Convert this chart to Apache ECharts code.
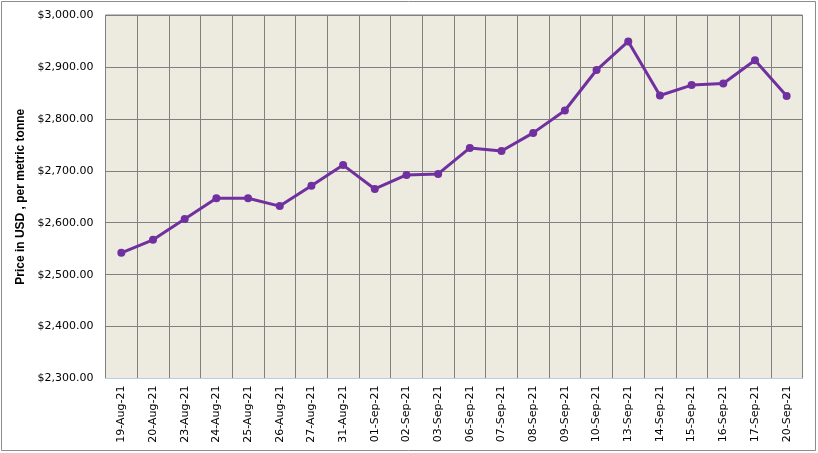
<!DOCTYPE html>
<html>
<head>
<meta charset="utf-8">
<script src="https://cdn.jsdelivr.net/npm/echarts@6/dist/echarts.min.js"></script>
<style>
  html, body { margin: 0; padding: 0; background: #fff; }
  #chart { width: 818px; height: 453px; }
</style>
</head>
<body>
<div id="chart"></div>
<script>
  // dates on the x axis
  var dates = ['19-Aug-21', '20-Aug-21', '23-Aug-21', '24-Aug-21', '25-Aug-21', '26-Aug-21',
    '27-Aug-21', '31-Aug-21', '01-Sep-21', '02-Sep-21', '03-Sep-21', '06-Sep-21',
    '07-Sep-21', '08-Sep-21', '09-Sep-21', '10-Sep-21', '13-Sep-21', '14-Sep-21',
    '15-Sep-21', '16-Sep-21', '17-Sep-21', '20-Sep-21'];
  // price per metric tonne
  var prices = [2542, 2567, 2607, 2647, 2647, 2632, 2671, 2711, 2665, 2692, 2694, 2744,
    2738, 2773, 2816, 2894, 2949, 2845, 2865, 2868, 2913, 2844];
  var yMin = 2300, yMax = 3000, yStep = 100;

  var myChart = echarts.init(document.getElementById('chart'));
  var option = {
    animation: false,
    backgroundColor: '#ffffff',
    graphic: [{
      type: 'rect',
      shape: { x: 1.5, y: 1.5, width: 814, height: 449 },
      style: { fill: 'none', stroke: '#8c8c8c', lineWidth: 1 },
      silent: true
    }],
    grid: {
      left: 105.5, right: 15.5, top: 15, bottom: 74.5,
      show: true,
      backgroundColor: '#EDEADF',
      borderColor: '#808080',
      borderWidth: 1
    },
    xAxis: {
      type: 'category',
      data: dates,
      boundaryGap: true,
      axisLine: { show: true, lineStyle: { color: '#B9CDE5', width: 1 } },
      axisTick: { show: false },
      axisLabel: {
        rotate: 90,
        interval: 0,
        margin: 7,
        color: '#000',
        fontSize: 11,
        fontFamily: 'DejaVu Sans'
      },
      splitLine: { show: true, interval: 0, lineStyle: { color: '#808080', width: 1 } }
    },
    yAxis: {
      type: 'value',
      min: yMin,
      max: yMax,
      interval: yStep,
      name: 'Price in USD , per metric tonne',
      nameLocation: 'middle',
      nameGap: 77,
      nameTextStyle: { fontWeight: 'bold', fontSize: 12, color: '#000', fontFamily: 'Liberation Sans' },
      axisLine: { show: false },
      axisTick: { show: false },
      axisLabel: {
        margin: 12,
        color: '#000',
        fontSize: 11,
        fontFamily: 'DejaVu Sans',
        formatter: function (v) {
          return '$' + v.toLocaleString('en-US', { minimumFractionDigits: 2, maximumFractionDigits: 2 });
        }
      },
      splitLine: { show: true, lineStyle: { color: '#808080', width: 1 } }
    },
    series: [{
      name: 'Price',
      type: 'line',
      data: prices,
      symbol: 'circle',
      symbolSize: 8,
      lineStyle: { color: '#7030A0', width: 3 },
      itemStyle: { color: '#7030A0' }
    }]
  };
  myChart.setOption(option);
</script>
</body>
</html>
